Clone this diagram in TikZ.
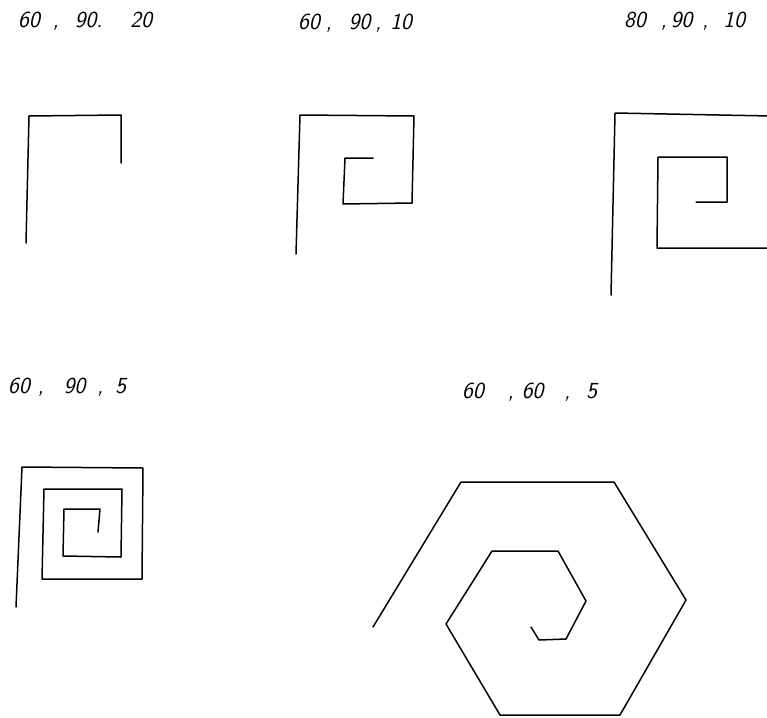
\documentclass[tikz,border=0pt]{standalone}
\usepackage{fontspec}
\begin{document}
\begin{tikzpicture}[x=1pt,y=-1pt,
  spiral/.style={line width=1.5pt,line join=round,line cap=round,black},
  lbl/.style={anchor=base west,inner sep=0pt,font=\fontsize{23}{26}\selectfont\sffamily\itshape}]
\useasboundingbox (0,0) rectangle (767,717);
\clip (0,0) rectangle (767,717);
% labels
\node[lbl] (l1) at (18,28) {60\hspace{13pt},\hspace{16pt}90.\hspace{28pt}20};
\node[lbl] (l2) at (298,30) {60\hspace{6pt},\hspace{17pt}90\hspace{5pt},\hspace{9pt}10};
\node[lbl] (l3) at (624,28) {80\hspace{15pt},\hspace{4pt}90\hspace{10pt},\hspace{15pt}10};
\node[lbl] (l4) at (8,393) {60\hspace{8pt},\hspace{20pt}90\hspace{12pt},\hspace{12pt}5};
\node[lbl] (l5) at (462,398) {60\hspace{24pt},\hspace{8pt}60\hspace{21pt},\hspace{16pt}5};
% 60,90,20
\draw[spiral] (26,243) -- (29,116) -- (121,115) -- (121,163);
% 60,90,10
\draw[spiral] (296,254) -- (300,115) -- (414,116) -- (412,203) -- (343,204) -- (345,158) -- (373,158);
% 80,90,10
\draw[spiral] (611,295) -- (615,113) -- (771,116) -- (771,248) -- (657,248) -- (658,157) -- (727,157) -- (727,202) -- (696,202);
% 60,90,5
\draw[spiral] (16,607) -- (22,467) -- (143,468) -- (142,579) -- (42,579) -- (44,489) -- (122,489) -- (121,557) -- (63,556) -- (64,509) -- (100,509) -- (98,532);
% 60,60,5
\draw[spiral] (373,627) -- (461,482) -- (614,482) -- (686,600) -- (620,715) -- (500,715) -- (446,624) -- (492,551) -- (558,551) -- (586,601) -- (566,639) -- (539,640) -- (531,627);
\end{tikzpicture}
\end{document}
